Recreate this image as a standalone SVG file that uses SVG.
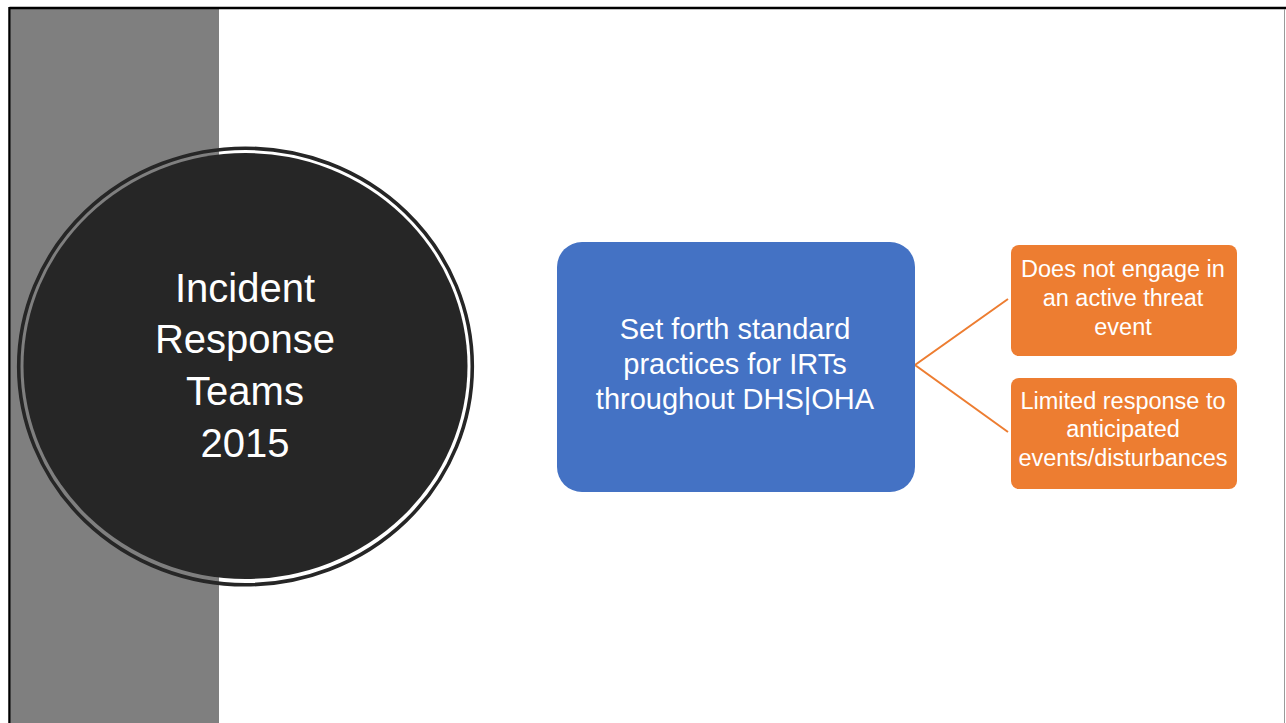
<svg xmlns="http://www.w3.org/2000/svg" width="1286" height="723" viewBox="0 0 1286 723">
<style>
.t{font-family:"Liberation Sans",Arial,sans-serif;fill:#FFFFFF;text-anchor:middle}
.title{font-size:40px}
.main{font-size:29px}
.sub{font-size:23.5px}
.conn{stroke:#ED7D31;stroke-width:2;fill:none}
</style>
<rect x="0" y="0" width="1286" height="723" fill="#FFFFFF"/>
<g id="frame">
<rect x="11" y="9" width="208" height="714" fill="#7F7F7F"/>
<line x1="9.5" y1="8" x2="1286" y2="8" stroke="#000000" stroke-width="2.5"/>
<line x1="9.5" y1="7" x2="9.5" y2="723" stroke="#000000" stroke-width="2.5"/>
<line x1="1284.5" y1="9" x2="1284.5" y2="723" stroke="#9A9A9A" stroke-width="1"/>
</g>
<g id="circle">
<ellipse cx="245.5" cy="366.5" rx="226.8" ry="218.3" fill="none" stroke="#262626" stroke-width="3.6"/>
<ellipse cx="245.5" cy="366" rx="222" ry="213" fill="#262626"/>
<text class="t title" x="245" y="302">Incident</text>
<text class="t title" x="245" y="353">Response</text>
<text class="t title" x="245" y="405">Teams</text>
<text class="t title" x="245" y="457">2015</text>
</g>
<g id="connectors">
<path class="conn" d="M1008 299 L915 365 L1008 432"/>
</g>
<g id="main">
<rect x="557" y="242" width="358" height="250" rx="25" fill="#4472C4"/>
<text class="t main" x="735" y="339">Set forth standard</text>
<text class="t main" x="735" y="374">practices for IRTs</text>
<text class="t main" x="735" y="409">throughout DHS|OHA</text>
</g>
<g id="sub1">
<rect x="1011" y="245" width="226" height="111" rx="8" fill="#ED7D31"/>
<text class="t sub" x="1123" y="277">Does not engage in</text>
<text class="t sub" x="1123" y="306">an active threat</text>
<text class="t sub" x="1123" y="335">event</text>
</g>
<g id="sub2">
<rect x="1011" y="378" width="226" height="111" rx="8" fill="#ED7D31"/>
<text class="t sub" x="1123" y="409">Limited response to</text>
<text class="t sub" x="1123" y="437">anticipated</text>
<text class="t sub" x="1123" y="466">events/disturbances</text>
</g>
</svg>
